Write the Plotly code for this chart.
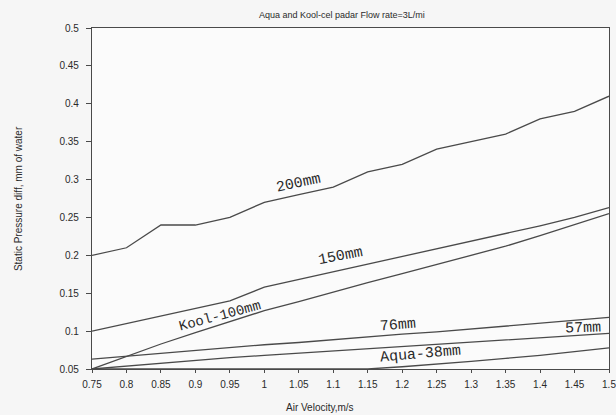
import plotly.graph_objects as go

velocity = [0.75, 0.8, 0.85, 0.9, 0.95, 1.0, 1.05, 1.1, 1.15, 1.2, 1.25, 1.3, 1.35, 1.4, 1.45, 1.5]

p200 = [0.20, 0.21, 0.24, 0.24, 0.25, 0.27, 0.28, 0.29, 0.31, 0.32, 0.34, 0.35, 0.36, 0.38, 0.39, 0.41]
p150 = [0.10, 0.11, 0.12, 0.13, 0.14, 0.158, 0.168, 0.178, 0.188, 0.198, 0.208, 0.218, 0.228, 0.239, 0.25, 0.263]
kool100 = [0.05, 0.067, 0.083, 0.098, 0.113, 0.127, 0.139, 0.152, 0.164, 0.176, 0.188, 0.2, 0.212, 0.226, 0.24, 0.255]
p76 = [0.063, 0.067, 0.071, 0.074, 0.078, 0.082, 0.085, 0.089, 0.092, 0.096, 0.099, 0.103, 0.107, 0.110, 0.114, 0.118]
p57 = [0.05, 0.054, 0.058, 0.061, 0.065, 0.068, 0.071, 0.074, 0.077, 0.080, 0.083, 0.086, 0.089, 0.092, 0.095, 0.097]
aqua38 = [0.05, 0.05, 0.05, 0.05, 0.05, 0.05, 0.05, 0.05, 0.05, 0.053, 0.056, 0.060, 0.064, 0.068, 0.073, 0.078]

series_names = ["200mm", "150mm", "Kool-100mm", "76mm", "57mm", "Aqua-38mm"]
series_values = [p200, p150, kool100, p76, p57, aqua38]

x_ticks = [0.75, 0.8, 0.85, 0.9, 0.95, 1.0, 1.05, 1.1, 1.15, 1.2, 1.25, 1.3, 1.35, 1.4, 1.45, 1.5]
x_ticktext = ["0.75", "0.8", "0.85", "0.9", "0.95", "1", "1.05", "1.1", "1.15", "1.2", "1.25", "1.3", "1.35", "1.4", "1.45", "1.5"]
y_ticks = [0.05, 0.1, 0.15, 0.2, 0.25, 0.3, 0.35, 0.4, 0.45, 0.5]
y_ticktext = ["0.05", "0.1", "0.15", "0.2", "0.25", "0.3", "0.35", "0.4", "0.45", "0.5"]

# label placement (x, y, angle, size)
label_pos = {
    "200mm": (1.05, 0.295, -12, 15),
    "150mm": (1.111, 0.199, -11, 15),
    "Kool-100mm": (0.935, 0.1195, -15, 14),
    "76mm": (1.194, 0.107, -5, 15),
    "57mm": (1.462, 0.104, -2, 15),
    "Aqua-38mm": (1.227, 0.069, -5, 15),
}

line_color = "#4a4a4a"
text_color = "#2a2a2a"
fig = go.Figure()
for name, vals in zip(series_names, series_values):
    fig.add_trace(go.Scatter(x=velocity, y=vals, mode="lines", name=name,
                             line=dict(color=line_color, width=1.3), showlegend=False))

for name in series_names:
    x, y, ang, sz = label_pos[name]
    fig.add_annotation(x=x, y=y, text=name, showarrow=False, textangle=ang,
                       font=dict(family="Liberation Mono, DejaVu Sans Mono, monospace", size=sz, color=text_color))

fig.add_annotation(text="Air Velocity,m/s", xref="paper", yref="paper", x=0.441, y=-0.113,
                   xanchor="center", yanchor="middle", showarrow=False,
                   font=dict(family="Liberation Sans, Arial, sans-serif", size=10, color=text_color))
fig.add_annotation(text="Static Pressure diff, mm of water", xref="paper", yref="paper", x=-0.142, y=0.5,
                   xanchor="center", yanchor="middle", showarrow=False, textangle=-90,
                   font=dict(family="Liberation Sans, Arial, sans-serif", size=10, color=text_color))

fig.update_layout(
    width=616, height=415,
    margin=dict(l=92, r=7, t=28, b=46),
    paper_bgcolor="#f6f6f6", plot_bgcolor="#fbfbfb",
    title=dict(text="Aqua and Kool-cel padar Flow rate=3L/mi", x=0.555, xanchor="center",
               y=0.965, yanchor="middle", yref="container",
               font=dict(family="Liberation Sans, Arial, sans-serif", size=9, color=text_color)),
    font=dict(family="Liberation Sans, Arial, sans-serif", size=10, color=text_color),
)
fig.update_xaxes(range=[0.75, 1.5], tickvals=x_ticks, ticktext=x_ticktext, ticks="outside", ticklen=3,
                 tickcolor=line_color, showline=True, linecolor=line_color, linewidth=1.2, mirror=True,
                 showgrid=False, zeroline=False, ticklabelstandoff=3,
                 ticklabeloverflow="allow", automargin=False)
fig.update_yaxes(range=[0.05, 0.5], tickvals=y_ticks, ticktext=y_ticktext, ticks="outside", ticklen=5,
                 tickcolor=line_color, showline=True, linecolor=line_color, linewidth=1.2, mirror=True,
                 showgrid=False, zeroline=False, ticklabelstandoff=5, automargin=False)

fig.write_html("out.html")
